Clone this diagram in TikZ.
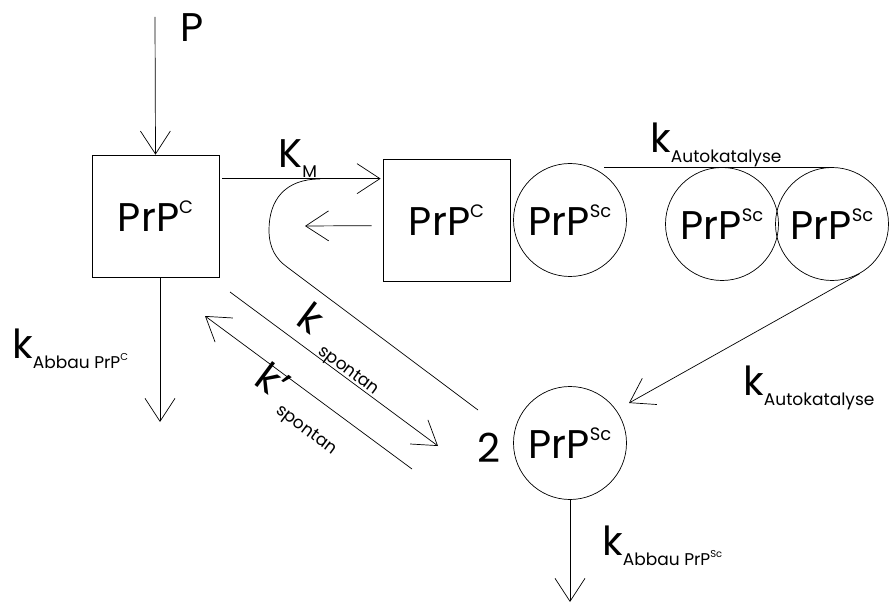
\documentclass[tikz,border=0pt]{standalone}
\usepackage{fontspec}
\setmainfont{Poppins}
\usetikzlibrary{arrows.meta}

\newcommand{\upidx}[1]{\raisebox{18pt}{\fontsize{18}{18}\selectfont #1}}
\newcommand{\lowidx}[1]{\raisebox{-10pt}{\fontsize{17}{17}\selectfont #1}}
\newcommand{\tinyup}[1]{\raisebox{8pt}{\fontsize{10}{10}\selectfont #1}}

\begin{document}
\begin{tikzpicture}[x=1pt, y=-1pt, line width=0.7pt,
    every node/.style={font=\fontsize{40}{40}\selectfont, inner sep=0pt},
    box/.style={draw, minimum width=127pt, minimum height=122pt},
    ball/.style={draw, circle, minimum size=113pt},
    arr/.style={-{Straight Barb[length=23pt, width=30pt]}}]
        \useasboundingbox (0,0) rectangle (889,604);
        \node[box] (cL) at (155.5,216) {PrP\upidx{C}};
        \node[box] (cM) at (446.5,220) {PrP\upidx{C}};
        \node[ball] (s1) at (570,220) {PrP\upidx{Sc}};
        \node[ball] (s2) at (722,224) {PrP\upidx{Sc}};
        \node[ball] (s3) at (832,224) {PrP\upidx{Sc}};
        \node[ball] (s4) at (570,443) {PrP\upidx{Sc}};
        \node[anchor=base west] (two) at (477,462) {2};
        \node[anchor=base west] (P) at (180,42) {P};
        \node[anchor=base west] (kM) at (278,168) {K\lowidx{M}};
        \node[anchor=base west] (kA1) at (650,153) {k\lowidx{Autokatalyse}};
        \node[anchor=base west] (kA2) at (743,395) {k\lowidx{Autokatalyse}};
        \node[anchor=base west] (kC) at (12,358) {k\lowidx{Abbau PrP\tinyup{C}}};
        \node[anchor=base west] (kSc) at (602,555) {k\lowidx{Abbau PrP\tinyup{Sc}}};
        \node[rotate=-36.5] (kS) at (342,349) {k\hspace{16pt}\lowidx{spontan}};
        \node[rotate=-36.5] (kS2) at (300,409) {k’\hspace{6pt}\lowidx{spontan}};
        \coordinate (srcP) at (155,17);
        \coordinate (sinkC) at (160,422);
        \coordinate (retTip) at (305,226);
        \coordinate (curveA) at (320,179);
        \coordinate (curveB) at (478,410);
        \coordinate (spA) at (230,292);
        \coordinate (spB) at (438,446);
        \coordinate (spC) at (412,469);
        \coordinate (spD) at (205,316);
        \coordinate (autoA) at (604,167);
        \coordinate (autoTip) at (629,403);
        \coordinate (sinkSc) at (570,602);
        \draw[arr] (srcP) -- (cL.north);
        \draw[arr] (cL.south -| sinkC) -- (sinkC);
        \draw[arr] ([shift={(3,24)}]cL.north east) -- ([shift={(-2,20)}]cM.north west);
        \draw[arr] ([shift={(-11,67)}]cM.north west) -- (retTip);
        \draw (curveA) .. controls (285,179) and (269,200) .. (269,230)
            .. controls (269,248) and (276,259) .. (287,267) -- (curveB);
        \draw[arr] (spA) -- (spB);
        \draw[arr] (spC) -- (spD);
        \draw (autoA) -- (autoA -| s3);
        \draw[arr] (s3.-61) -- (autoTip);
        \draw[arr] (s4.south) -- (sinkSc);
      \end{tikzpicture}
\end{document}
